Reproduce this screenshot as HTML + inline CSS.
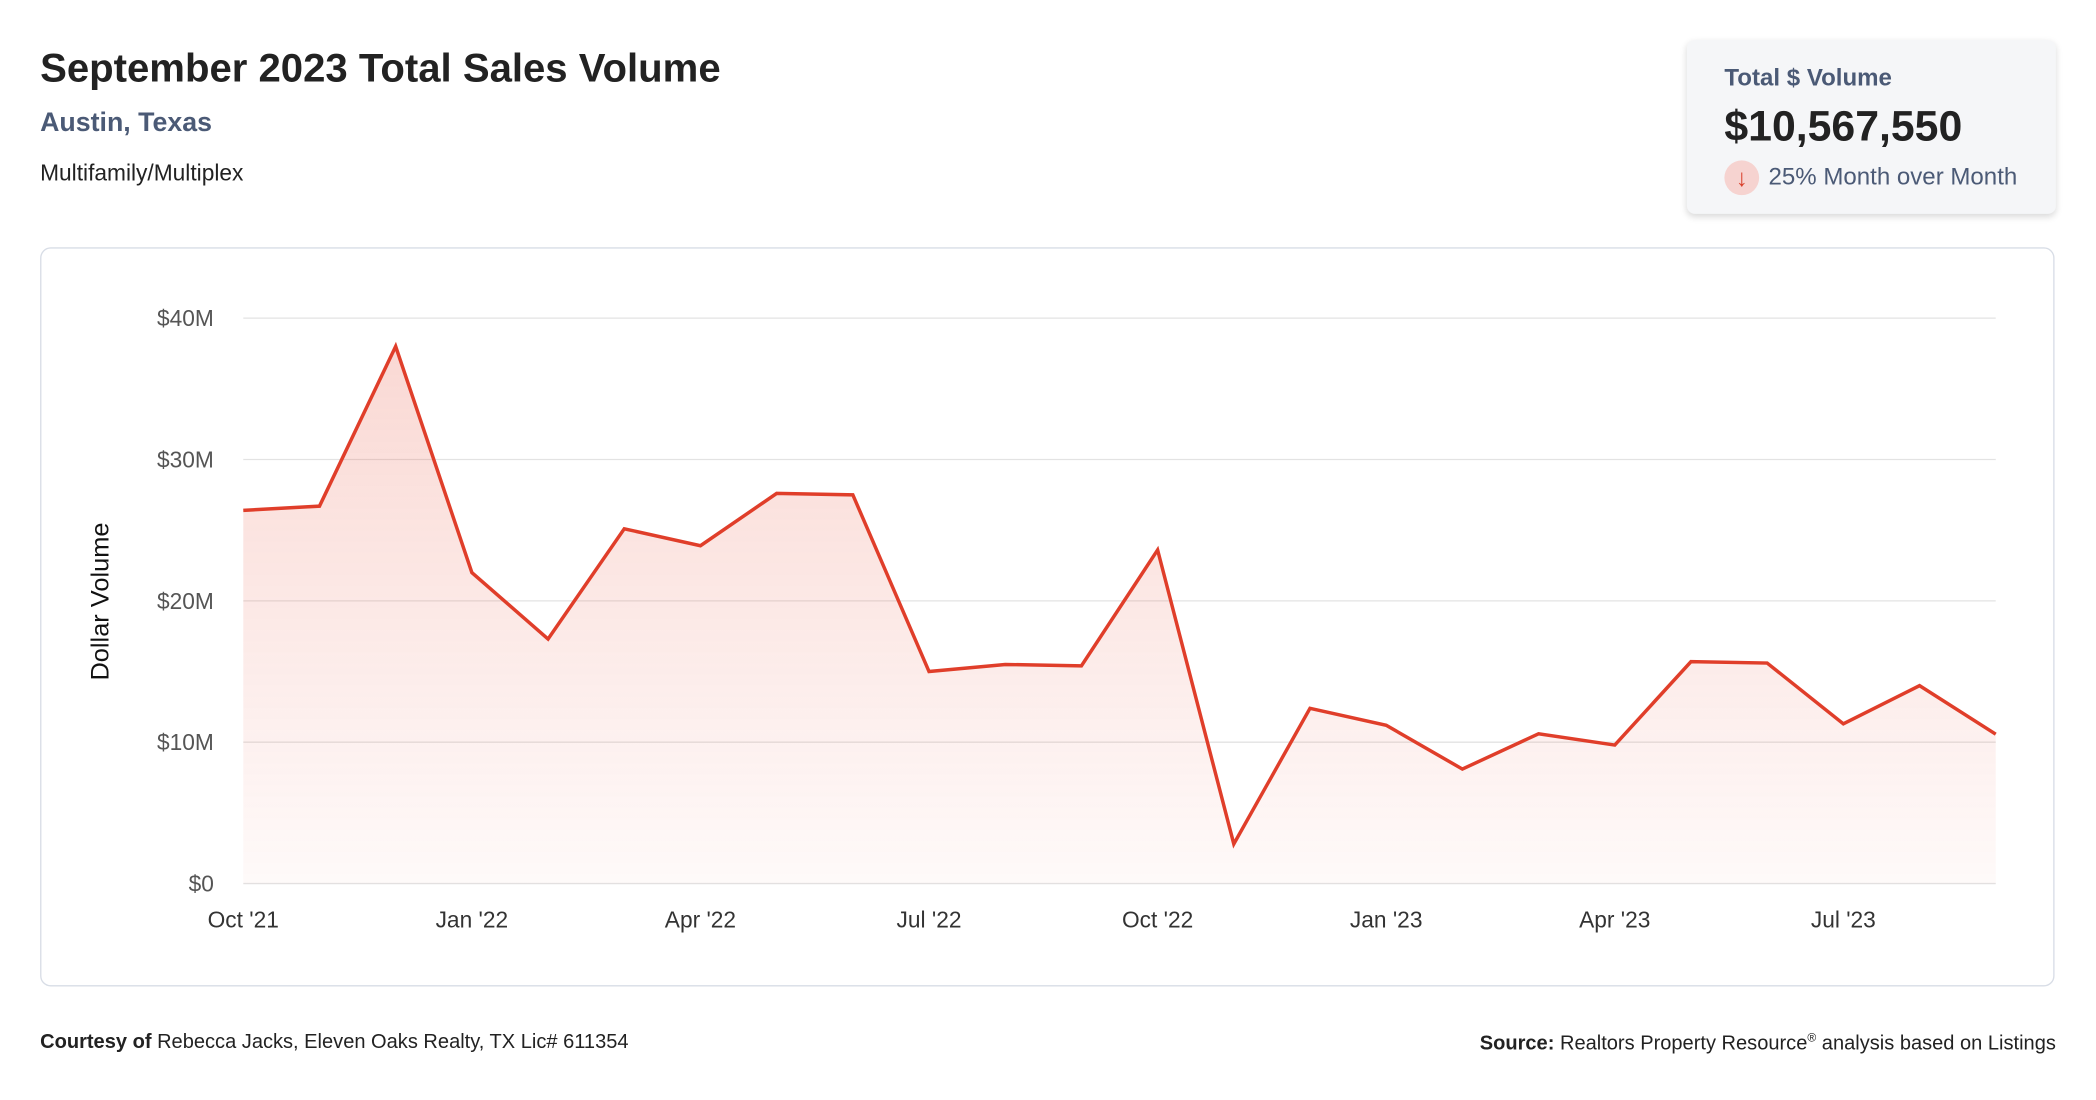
<!DOCTYPE html>
<html><head><meta charset="utf-8">
<style>
html,body{margin:0;padding:0;background:#fff;width:2096px;height:1100px;overflow:hidden}
#wrap{position:absolute;left:0;top:0;width:1568px;height:823px;transform:scale(1.33673);transform-origin:0 0;font-family:"Liberation Sans",Arial,sans-serif;color:#222}
.abs{position:absolute;white-space:nowrap}
</style></head><body>
<div id="wrap">
 <div class="abs" style="left:30px;top:35px;font-size:30px;font-weight:bold;color:#222">September 2023 Total Sales Volume</div>
 <div class="abs" style="left:30px;top:81px;font-size:20px;font-weight:bold;color:#4b5a76">Austin, Texas</div>
 <div class="abs" style="left:30px;top:120px;font-size:17px;color:#222">Multifamily/Multiplex</div>

 <div class="abs" style="left:1262px;top:30px;width:276px;height:130px;background:#f5f6f8;border-radius:6px;box-shadow:0 2px 5px rgba(0,0,0,0.15)">
  <div class="abs" style="left:28px;top:18px;font-size:18px;font-weight:bold;color:#4b5a76">Total $ Volume</div>
  <div class="abs" style="left:28px;top:46px;font-size:32px;font-weight:bold;color:#222">$10,567,550</div>
  <div class="abs" style="left:28px;top:90px;width:26px;height:26px;border-radius:13px;background:#f6d3d0;color:#d9402b;font-size:18px;text-align:center;line-height:26px">↓</div>
  <div class="abs" style="left:61px;top:92px;font-size:18px;color:#4b5a76">25% Month over Month</div>
 </div>

 <div class="abs" style="left:30px;top:185px;width:1505px;height:551px;border:1px solid #d8dde6;border-radius:8px"></div>
 <svg class="abs" id="chart" style="left:0;top:0" width="1568" height="823"></svg>

 <div class="abs" style="left:30px;top:771px;font-size:15px;color:#222"><b>Courtesy of</b> Rebecca Jacks, Eleven Oaks Realty, TX Lic# 611354</div>
 <div class="abs" style="right:30px;top:771px;font-size:15px;color:#222"><b>Source:</b> Realtors Property Resource<sup style="font-size:9px">®</sup> analysis based on Listings</div>
</div>
<script>
const months = ["Oct '21","Nov '21","Dec '21","Jan '22","Feb '22","Mar '22","Apr '22","May '22","Jun '22","Jul '22","Aug '22","Sep '22","Oct '22","Nov '22","Dec '22","Jan '23","Feb '23","Mar '23","Apr '23","May '23","Jun '23","Jul '23","Aug '23","Sep '23"];
const volumes = [26.4,26.7,38.0,22.0,17.3,25.1,23.9,27.6,27.5,15.0,15.5,15.4,23.6,2.8,12.4,11.2,8.1,10.6,9.8,15.7,15.6,11.3,14.0,10.57];
const yTicks = [0,10,20,30,40];
const yTickLabels = ["$0","$10M","$20M","$30M","$40M"];
const xTickIdx = [0,3,6,9,12,15,18,21];

const NS="http://www.w3.org/2000/svg";
const svg=document.getElementById('chart');
const x0=182,x1=1493,yTop=238,yBot=661,yMax=40;
const xs=i=>x0+(x1-x0)*i/(months.length-1);
const ys=v=>yBot-(yBot-yTop)*v/yMax;
function mk(t,a){const e=document.createElementNS(NS,t);for(const k in a)e.setAttribute(k,a[k]);svg.appendChild(e);return e;}
const defs=mk('defs',{});
defs.innerHTML='<linearGradient id="fillg" x1="0" y1="0" x2="0" y2="1"><stop offset="0" stop-color="#e8503a" stop-opacity="0.22"/><stop offset="1" stop-color="#e8503a" stop-opacity="0.03"/></linearGradient>';
yTicks.forEach((t,i)=>{
 const g=mk('line',{x1:x0,x2:x1,y1:ys(t),y2:ys(t),stroke:'#e3e3e3','stroke-width':1});
 
 
 const l=mk('text',{x:160,y:ys(t)+6,'text-anchor':'end','font-size':17,fill:'#555','font-family':'Liberation Sans, sans-serif'});
 l.textContent=yTickLabels[i];
 
 
});
xTickIdx.forEach(i=>{
 const l=mk('text',{x:xs(i),y:694,'text-anchor':'middle','font-size':17,fill:'#333','font-family':'Liberation Sans, sans-serif'});
 l.textContent=months[i];
 
 
});
const yt=mk('text',{x:0,y:0,transform:'translate(81,450) rotate(-90)','text-anchor':'middle','font-size':19,fill:'#111','font-family':'Liberation Sans, sans-serif'});
yt.textContent='Dollar Volume';


const pts=volumes.map((v,i)=>xs(i)+','+ys(v));
const area=mk('polygon',{points:pts.join(' ')+' '+xs(volumes.length-1)+','+yBot+' '+x0+','+yBot,fill:'url(#fillg)'});


const line=mk('polyline',{points:pts.join(' '),fill:'none',stroke:'#e03e2a','stroke-width':2.6,'stroke-linejoin':'miter'});


</script>
</body></html>
